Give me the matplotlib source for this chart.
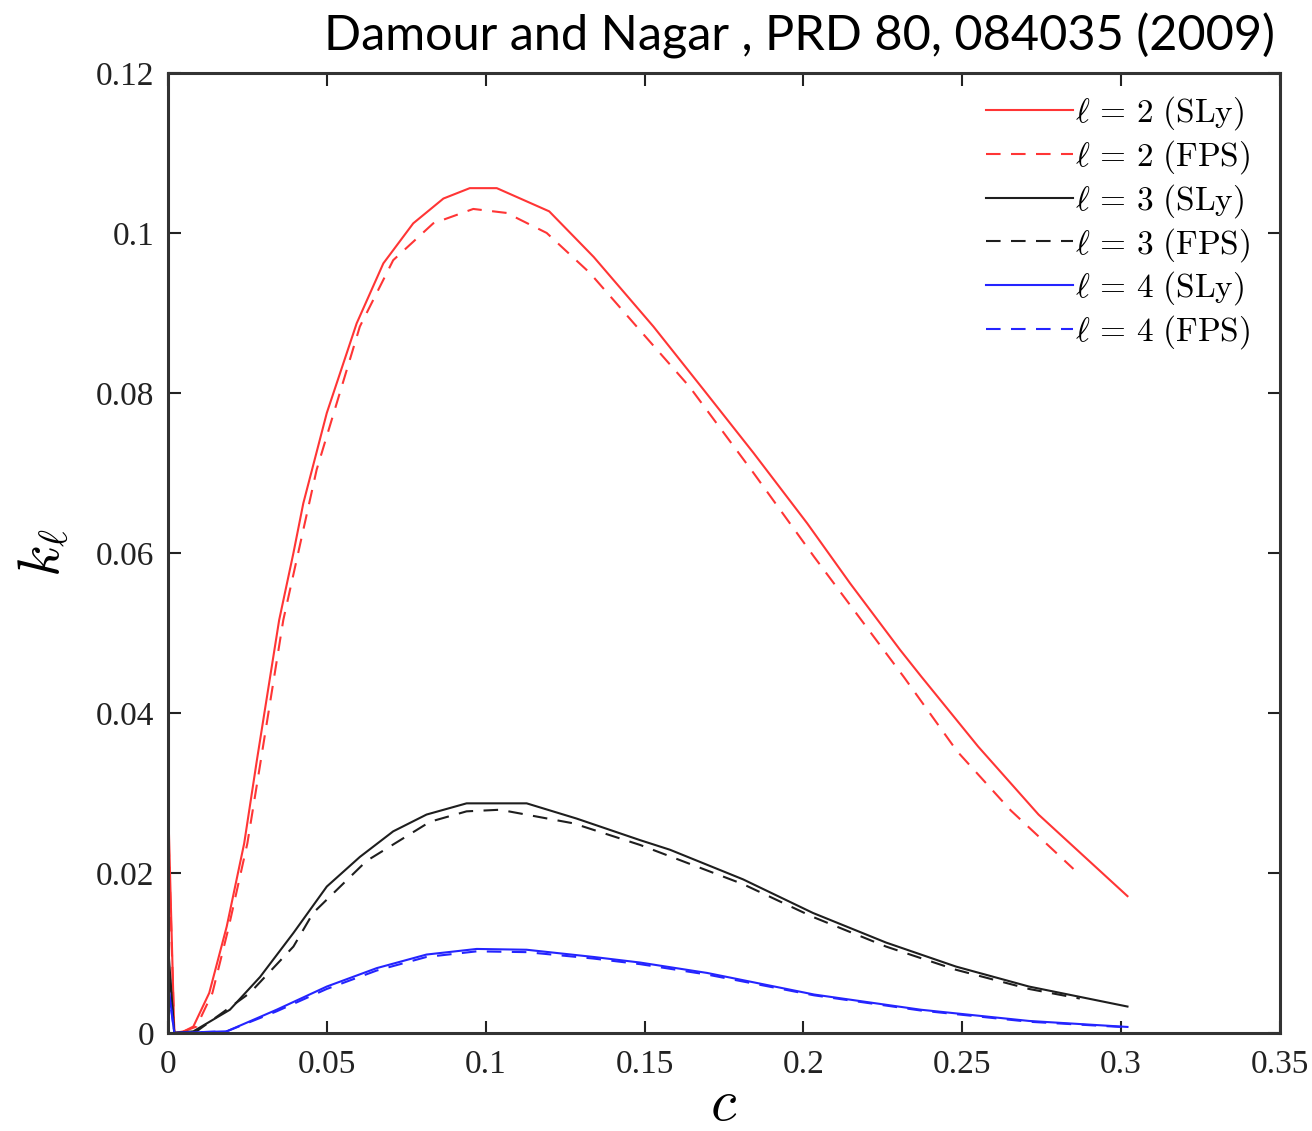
import matplotlib
matplotlib.use("Agg")
import matplotlib.pyplot as plt
from matplotlib.ticker import FuncFormatter

# compactness c and Love numbers k_l
c_l2_sly = [0.0, 0.002, 0.005, 0.008, 0.013, 0.0185, 0.024, 0.028, 0.035, 0.0395, 0.0426, 0.050,
            0.0594, 0.0678, 0.0772, 0.0867, 0.095, 0.1035, 0.120, 0.134, 0.1528, 0.1686, 0.1843,
            0.2012, 0.2147, 0.2304, 0.237, 0.255, 0.274, 0.302]
k_l2_sly = [0.0297, 0.0, 0.0002, 0.0008, 0.005, 0.0133, 0.0237, 0.0341, 0.0516, 0.060, 0.0662, 0.0775,
            0.0887, 0.0962, 0.1012, 0.1043, 0.1056, 0.1056, 0.1027, 0.0970, 0.0883, 0.0804, 0.0725,
            0.0637, 0.0562, 0.0479, 0.0446, 0.0358, 0.0273, 0.0171]

c_l2_fps = [0.0, 0.002, 0.005, 0.009, 0.014, 0.019, 0.025, 0.029, 0.0363, 0.0468, 0.0604, 0.0709,
            0.0835, 0.0961, 0.1066, 0.1192, 0.1328, 0.1484, 0.1641, 0.1843, 0.2034, 0.2237, 0.2316,
            0.2484, 0.2653, 0.2850]
k_l2_fps = [0.027, 0.0, 0.0002, 0.0008, 0.005, 0.013, 0.0237, 0.0335, 0.0516, 0.0704, 0.0883, 0.0966,
            0.1012, 0.1030, 0.1025, 0.1000, 0.0950, 0.0879, 0.0808, 0.0700, 0.0595, 0.0487, 0.0445,
            0.0352, 0.0278, 0.0205]

c_l3_sly = [0.0, 0.002, 0.008, 0.0195, 0.029, 0.0395, 0.050, 0.0604, 0.0709, 0.0814, 0.094, 0.1129,
            0.1286, 0.1486, 0.158, 0.181, 0.203, 0.226, 0.248, 0.271, 0.302]
k_l3_sly = [0.0111, 0.0, 0.0002, 0.0029, 0.0070, 0.0125, 0.0183, 0.0220, 0.0252, 0.0273, 0.0287, 0.0287,
            0.0268, 0.0241, 0.0229, 0.0192, 0.0150, 0.0113, 0.0083, 0.0058, 0.0033]

c_l3_fps = [0.0, 0.002, 0.009, 0.0258, 0.0395, 0.0457, 0.0625, 0.0825, 0.094, 0.1045, 0.1276, 0.1486,
            0.181, 0.203, 0.226, 0.248, 0.271, 0.287]
k_l3_fps = [0.010, 0.0, 0.0002, 0.005, 0.0108, 0.0150, 0.0215, 0.0264, 0.0277, 0.0279, 0.0262, 0.0235,
            0.0186, 0.0145, 0.0108, 0.0079, 0.0055, 0.0043]

c_l4 = [0.0, 0.002, 0.0185, 0.0342, 0.05, 0.0657, 0.0814, 0.0972, 0.1129, 0.1339, 0.1486, 0.1697,
        0.2034, 0.237, 0.271, 0.302]
k_l4_sly = [0.0064, 0.0, 0.0002, 0.0029, 0.0058, 0.0081, 0.0098, 0.0105, 0.0104, 0.0095, 0.0088, 0.0075,
            0.0048, 0.0029, 0.0015, 0.00075]
k_l4_fps = [0.0060, 0.0, 0.0002, 0.0027, 0.0055, 0.0078, 0.0095, 0.0102, 0.0101, 0.0093, 0.0086, 0.0073,
            0.0047, 0.0028, 0.0014, 0.0007]

xticks = [0, 0.05, 0.1, 0.15, 0.2, 0.25, 0.3, 0.35]
yticks = [0, 0.02, 0.04, 0.06, 0.08, 0.1, 0.12]

plt.rcParams["mathtext.fontset"] = "cm"

fig = plt.figure(figsize=(13.12, 11.31), dpi=100)
ax = fig.add_axes([0.128, 0.0867, 0.8476, 0.8488])

red = "#ff3535"
black = "#1e1e1e"
blue = "#2424ff"
dash = (7, 5)
lw = 1.5

ax.plot(c_l2_sly, k_l2_sly, color=red, lw=lw, label=r"$\ell \,=\, 2\ \mathrm{(SLy)}$")
ax.plot(c_l2_fps, k_l2_fps, color=red, lw=lw, dashes=dash, label=r"$\ell \,=\, 2\ \mathrm{(FPS)}$")
ax.plot(c_l3_sly, k_l3_sly, color=black, lw=lw, label=r"$\ell \,=\, 3\ \mathrm{(SLy)}$")
ax.plot(c_l3_fps, k_l3_fps, color=black, lw=lw, dashes=dash, label=r"$\ell \,=\, 3\ \mathrm{(FPS)}$")
ax.plot(c_l4, k_l4_sly, color=blue, lw=lw, label=r"$\ell \,=\, 4\ \mathrm{(SLy)}$")
ax.plot(c_l4, k_l4_fps, color=blue, lw=lw, dashes=dash, label=r"$\ell \,=\, 4\ \mathrm{(FPS)}$")

ax.set_xlim(0, 0.35)
ax.set_ylim(0, 0.12)
ax.set_xticks(xticks)
ax.set_yticks(yticks)
fmt = FuncFormatter(lambda v, p: "%g" % v)
ax.xaxis.set_major_formatter(fmt)
ax.yaxis.set_major_formatter(fmt)
ax.tick_params(direction="in", length=9, width=1.5, top=True, right=True,
               labelsize=24, colors="#222222")
ax.tick_params(axis="x", pad=12)
ax.tick_params(axis="y", pad=10)
for lab in ax.get_xticklabels() + ax.get_yticklabels():
    lab.set_fontfamily("Liberation Serif")
for s in ax.spines.values():
    s.set_linewidth(2.2)
    s.set_color("#333333")

ax.set_xlabel(r"$c$", fontsize=42, labelpad=-4)
ax.set_ylabel(r"$k_\ell$", fontsize=42, labelpad=18)

ax.legend(loc="upper right", bbox_to_anchor=(0.985, 0.992), frameon=False, fontsize=24,
          handlelength=2.6, handletextpad=0.05, labelspacing=0.18, borderaxespad=0.0)

fig.text(0.972, 0.968, "Damour and Nagar , PRD 80, 084035 (2009)", ha="right", va="center",
         fontsize=35, family="Lato")

fig.savefig("out.png", dpi=100)
